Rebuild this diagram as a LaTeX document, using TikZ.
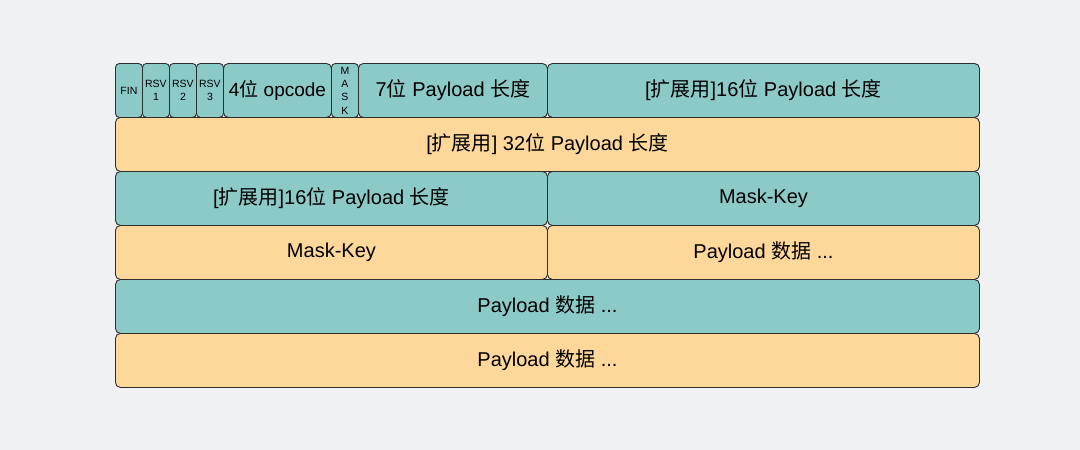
\documentclass[tikz,border=0pt]{standalone}
\usepackage{fontspec}
\setmainfont{Liberation Sans}
\newfontfamily\cjk{Noto Sans CJK SC}
\newcommand{\zhtext}[1]{{\cjk #1}}
\definecolor{frameteal}{HTML}{8CCAC8}
\definecolor{frameorange}{HTML}{FED89A}
\definecolor{pagebg}{HTML}{F0F1F3}
\definecolor{frameline}{HTML}{2E2E2E}

\begin{document}
\begin{tikzpicture}[x=1pt, y=-1pt,
    cell/.style={draw=frameline, line width=0.9pt, rounded corners=5pt, anchor=north west,
        minimum height=54pt, inner sep=0pt, text=black, font=\fontsize{20}{24}\selectfont},
    tealcell/.style={cell, fill=frameteal},
    orangecell/.style={cell, fill=frameorange},
    bitcell/.style={tealcell, minimum width=27pt, rounded corners=4pt, align=center,
        font=\fontsize{10.5}{13.3}\selectfont}]
                \fill[pagebg] (0,0) rectangle (1080,450);
                % first row: header bits
                \node[bitcell] (fin) at (115,63) {FIN};
                \foreach \i in {1,...,3} {
                    \pgfmathsetmacro{\x}{115 + 27*\i}
                    \node[bitcell] (rsv\i) at (\x,63) {RSV\\\i};
                }
                \node[tealcell, minimum width=108pt, font=\fontsize{19}{22}\selectfont] (opcode) at (223,63) {4\zhtext{位} opcode};
                \node[bitcell] (mask) at (331,63) {M\\A\\S\\K};
                \node[tealcell, minimum width=189pt] (len7) at (358,63) {7\zhtext{位} Payload \zhtext{长度}};
                \node[tealcell, minimum width=432pt] (len16) at (547,63) {[\zhtext{扩展用}]16\zhtext{位} Payload \zhtext{长度}};
                % extended length, mask key, data
                \node[orangecell, minimum width=864pt] (len32) at (115,117) {[\zhtext{扩展用}] 32\zhtext{位} Payload \zhtext{长度}};
                \node[tealcell, minimum width=432pt] (lenlow) at (115,171) {[\zhtext{扩展用}]16\zhtext{位} Payload \zhtext{长度}};
                \node[tealcell, minimum width=432pt] (keyhigh) at (547,171) {Mask-Key};
                \node[orangecell, minimum width=432pt] (keylow) at (115,225) {Mask-Key};
                \node[orangecell, minimum width=432pt] (data1) at (547,225) {Payload \zhtext{数据} ...};
                \node[tealcell, minimum width=864pt] (data2) at (115,279) {Payload \zhtext{数据} ...};
                \node[orangecell, minimum width=864pt] (data3) at (115,333) {Payload \zhtext{数据} ...};
            \end{tikzpicture}
\end{document}
